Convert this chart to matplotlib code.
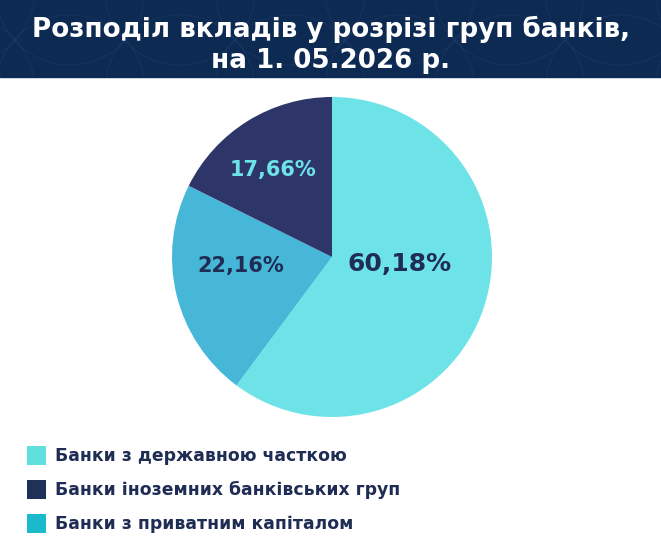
"""
plot.py — deposit split by bank group (pie) with navy header banner.
Saves out.png at 661x551.
"""
import matplotlib
matplotlib.use("Agg")
import matplotlib.pyplot as plt
from matplotlib.patches import Rectangle, Arc

TITLE = ["Розподіл вкладів у розрізі груп банків,", "на 1. 05.2026 р."]
GROUPS = ["Банки з державною часткою", "Банки іноземних банківських груп", "Банки з приватним капіталом"]
# pie order: clockwise from 12 o'clock
PIE_LABELS = ["60,18%", "22,16%", "17,66%"]
PIE_VALUES = [60.18, 22.16, 17.66]

NAVY = "#0d2a53"
SLICE_COL = ["#6de3e8", "#46b7d7", "#2d3569"]
LEGEND_COL = ["#5fe0dc", "#1f3158", "#1ab9cb"]
TXT_DARK = "#1f2d55"

W, H = 661, 551
plt.rcParams["font.family"] = ["DejaVu Sans"]

fig = plt.figure(figsize=(W / 100, H / 100), dpi=100)
ax = fig.add_axes([0, 0, 1, 1])
ax.set_xlim(0, W)
ax.set_ylim(0, H)
ax.set_aspect("equal")
ax.axis("off")


def Y(y):  # pixel row -> data y
    return H - y


# header banner with faint arc pattern
banner = Rectangle((0, Y(77)), W, 77, color=NAVY, zorder=0)
ax.add_patch(banner)
for cx in range(-40, W + 80, 110):
    for cy in (Y(-10), Y(90)):
        arc = Arc((cx, cy), 150, 150, color="#2b4774", lw=0.8, alpha=0.3, zorder=0.5)
        ax.add_patch(arc)
        arc.set_clip_path(banner)
ax.text(W / 2, Y(29), TITLE[0], ha="center", va="center", color="white",
        fontsize=18.8, fontweight="bold", zorder=2)
ax.text(W / 2, Y(61), TITLE[1], ha="center", va="center", color="white",
        fontsize=18.8, fontweight="bold", zorder=2)

# pie
ax.pie(PIE_VALUES, colors=SLICE_COL, startangle=90, counterclock=False,
       center=(332, Y(257)), radius=160, frame=True,
       wedgeprops=dict(linewidth=0))
ax.set_xlim(0, W)
ax.set_ylim(0, H)
ax.axis("off")

ax.text(400, Y(264), PIE_LABELS[0], ha="center", va="center", color=TXT_DARK,
        fontsize=18, fontweight="heavy")
ax.text(241, Y(266), PIE_LABELS[1], ha="center", va="center", color=TXT_DARK,
        fontsize=15, fontweight="heavy")
ax.text(273, Y(170), PIE_LABELS[2], ha="center", va="center", color=SLICE_COL[0],
        fontsize=15, fontweight="heavy")

# legend
for i, (lab, col) in enumerate(zip(GROUPS, LEGEND_COL)):
    yc = 456 + i * 34
    ax.add_patch(Rectangle((27, Y(yc + 9)), 19, 19, color=col, lw=0))
    ax.text(55, Y(yc), lab, ha="left", va="center", color=TXT_DARK,
            fontsize=12.4, fontweight="bold")

fig.savefig("out.png", dpi=100, facecolor="white")
